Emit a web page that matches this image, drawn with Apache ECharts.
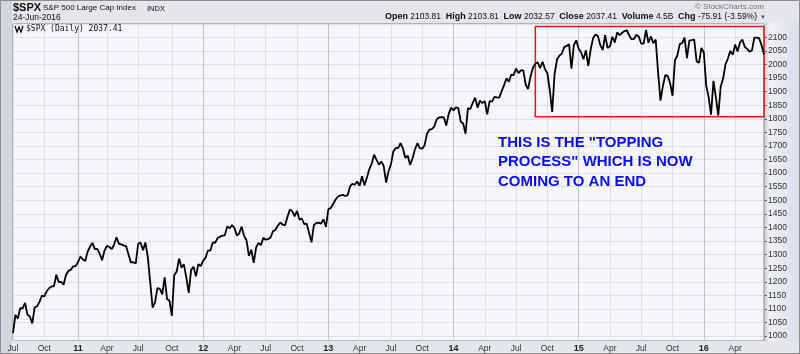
<!DOCTYPE html>
<html>
<head>
<meta charset="utf-8">
<script src="https://cdn.jsdelivr.net/npm/echarts@6/dist/echarts.min.js"></script>
<style>
  html, body { margin: 0; padding: 0; background: #fff; }
  #chart { width: 800px; height: 354px; }
</style>
</head>
<body>
<div id="chart"></div>
<script>
// weekly values of $SPX (one per week, Fridays from 2 Jul 2010)
const spx2010 = [1011, 1078, 1065, 1103, 1102, 1122, 1079, 1072, 1047,
  1105, 1110, 1126, 1149, 1146, 1165, 1176, 1183, 1183, 1226, 1199, 1200, 1189,
  1225, 1240, 1244, 1257, 1258];
const spx2011 = [1272, 1293, 1283, 1276, 1311, 1329, 1343, 1320, 1321, 1304, 1279, 1314,
  1332, 1328, 1320, 1337, 1364, 1340, 1338, 1333, 1331, 1300, 1271, 1272, 1268,
  1340, 1344, 1316, 1345, 1292, 1199, 1105, 1124, 1177, 1174, 1154, 1216, 1136, 1131,
  1075, 1225, 1238, 1285, 1253, 1264, 1216, 1159, 1244, 1255, 1220, 1265, 1258];
const spx2012 = [1278, 1289, 1315, 1316, 1345, 1343, 1361, 1366, 1370, 1371, 1404, 1397, 1409,
  1398, 1370, 1379, 1403, 1369, 1353, 1295, 1318, 1270, 1326, 1343, 1335, 1362,
  1355, 1357, 1363, 1386, 1391, 1406, 1418, 1411, 1407, 1438, 1466, 1460, 1441,
  1461, 1429, 1433, 1412, 1414, 1380, 1345, 1409, 1416, 1418, 1414, 1430, 1402];
const spx2013 = [1467, 1472, 1486, 1503, 1513, 1518, 1520, 1516, 1518, 1551, 1561, 1557, 1569,
  1553, 1589, 1555, 1582, 1614, 1634, 1668, 1650, 1631, 1643, 1627, 1565, 1606,
  1632, 1680, 1692, 1692, 1710, 1691, 1656, 1664, 1630, 1655, 1688, 1710, 1692,
  1690, 1703, 1745, 1760, 1762, 1771, 1798, 1805, 1806, 1805, 1775, 1818, 1841];
const spx2014 = [1831, 1842, 1839, 1790, 1783, 1745, 1839, 1836, 1859, 1878, 1841, 1867, 1858,
  1865, 1816, 1865, 1863, 1881, 1879, 1878, 1901, 1924, 1949, 1936, 1963, 1961,
  1985, 1968, 1978, 1978, 1925, 1910, 1955, 1988, 2003, 2008, 1986, 2010, 1983,
  1968, 1906, 1825, 1965, 2018, 2032, 2040, 2064, 2068, 2075, 1985, 2071, 2089];
const spx2015 = [2058, 2045, 2019, 2052, 1995, 2056, 2097, 2110, 2105, 2071, 2053, 2108, 2061,
  2067, 2102, 2081, 2118, 2108, 2116, 2123, 2126, 2107, 2093, 2094, 2110, 2102,
  2077, 2077, 2127, 2080, 2104, 2078, 2092, 1971, 1867, 1921, 1961, 1958, 1931,
  1885, 2015, 2033, 2075, 2079, 2099, 2023, 2089, 2090, 2092, 2012, 2006, 2061];
const spx2016 = [2044, 1922, 1880, 1815, 1940, 1880, 1812, 1918, 1948, 2000, 2022, 2050, 2036,
  2073, 2048, 2081, 2092, 2065, 2057, 2047, 2052, 2099, 2099, 2096, 2071, 2037];

const closes = [].concat(spx2010, spx2011, spx2012, spx2013, spx2014, spx2015, spx2016);

const monthNames = ['Jan', 'Feb', 'Mar', 'Apr', 'May', 'Jun', 'Jul', 'Aug', 'Sep', 'Oct', 'Nov', 'Dec'];

// the Friday dates, one per value
const weeks = [];
let d = new Date(Date.UTC(2010, 6, 2));
for (let i = 0; i < closes.length; i++) {
  weeks.push(d.toISOString().slice(0, 10));
  d = new Date(d.getTime() + 7 * 864e5);
}

function isQuarter(i) {
  const m = +weeks[i].slice(5, 7) - 1, day = +weeks[i].slice(8, 10);
  return m % 3 === 0 && day <= 7;
}
function isYear(i) {
  return weeks[i].slice(5, 7) === '01' && +weeks[i].slice(8, 10) <= 7;
}

const FONT = "'Liberation Sans', Arial, sans-serif";
const chart = echarts.init(document.getElementById('chart'));

const option = {
  animation: false,
  backgroundColor: '#e4e6ea',
  grid: {
    left: 13, right: 36, top: 24, bottom: 13,
    show: true,
    backgroundColor: '#f5f7fb',
    borderColor: '#808080',
    borderWidth: 1
  },
  xAxis: [
    {
      type: 'category',
      data: weeks,
      boundaryGap: false,
      axisLine: { show: false },
      axisTick: { show: false },
      axisLabel: {
        interval: (i) => isQuarter(i),
        margin: 3,
        fontSize: 8.5,
        fontFamily: FONT,
        color: '#333',
        formatter: (v) => {
          const m = +v.slice(5, 7) - 1;
          if (m === 0) return '{y|' + v.slice(2, 4) + '}';
          return monthNames[m];
        },
        rich: { y: { fontWeight: 'bold', fontSize: 9, fontFamily: FONT, color: '#222' } }
      },
      splitLine: {
        show: true,
        interval: (i) => isQuarter(i) && !isYear(i),
        lineStyle: { color: '#dde1e9', width: 1 }
      }
    },
    {
      type: 'category',
      data: weeks,
      boundaryGap: false,
      axisLine: { show: false },
      axisTick: { show: false },
      axisLabel: { show: false },
      splitLine: {
        show: true,
        interval: (i) => isYear(i),
        lineStyle: { color: '#c3c7cf', width: 1 }
      }
    }
  ],
  yAxis: {
    type: 'value',
    position: 'right',
    min: 982,
    max: 2149,
    splitNumber: 23,
    axisLine: { show: false },
    axisTick: { show: true, length: 3, lineStyle: { color: '#666' } },
    axisLabel: {
      margin: 4,
      fontSize: 8.5,
      fontFamily: FONT,
      color: '#333',
      showMinLabel: false,
      showMaxLabel: false,
      formatter: (v) => String(v)
    },
    splitLine: { lineStyle: { color: '#dde1e9', width: 1 } }
  },
  series: [{
    type: 'line',
    data: closes,
    showSymbol: false,
    z: 3,
    lineStyle: { color: '#000', width: 1.8 },
    markArea: {
      silent: true,
      itemStyle: { color: 'rgba(0,0,0,0)', borderColor: '#e8141b', borderWidth: 1.5 },
      data: [[{ xAxis: '2014-08-29', yAxis: 1808 }, { xAxis: weeks[weeks.length - 1], yAxis: 2140 }]]
    }
  }],
  graphic: [
    // right label panel and left strip
    { type: 'rect', shape: { x: 765, y: 22, width: 35, height: 320 }, z: -1,
      style: { fill: new echarts.graphic.LinearGradient(0, 0, 1, 0, [
        { offset: 0, color: '#cdd1d8' }, { offset: 0.12, color: '#eef0f4' }, { offset: 1, color: '#d9dee7' }]) } },
    { type: 'rect', shape: { x: 0, y: 0, width: 12, height: 354 }, z: -1, style: { fill: '#d3d6dc' } },
    { type: 'rect', shape: { x: 0.5, y: 0.5, width: 799, height: 353 }, z: 100,
      style: { fill: 'none', stroke: '#8d8d8d', lineWidth: 1 } },

    // header
    { type: 'text', x: 13, y: 2, z: 100, style: { text: '$SPX', font: 'bold 11px ' + FONT, fill: '#111' } },
    { type: 'text', x: 43, y: 4, z: 100, style: { text: 'S&P 500 Large Cap Index', font: '8px ' + FONT, fill: '#111' } },
    { type: 'text', x: 147, y: 5, z: 100, style: { text: 'INDX', font: '7.5px ' + FONT, fill: '#111' } },
    { type: 'text', x: 13, y: 13, z: 100, style: { text: '24-Jun-2016', font: '8.5px ' + FONT, fill: '#111' } },
    { type: 'text', x: 764, y: 3, z: 100, style: { text: '© StockCharts.com', font: '8px ' + FONT, fill: '#777', align: 'right' } },
    { type: 'text', x: 757, y: 17, z: 100, style: {
        text: '{b|Open} 2103.81  {b|High} 2103.81  {b|Low} 2032.57  {b|Close} 2037.41  {b|Volume} 4.5B  {b|Chg} -75.91 (-3.59%)',
        font: '8.5px ' + FONT, fill: '#111', align: 'right', verticalAlign: 'middle',
        rich: { b: { fontWeight: 'bold', fontSize: 9, fontFamily: FONT, fill: '#111' } } } },
    { type: 'text', x: 763, y: 17, z: 100, style: { text: '▼', font: '6px ' + FONT, fill: '#3b4f8a', align: 'center', verticalAlign: 'middle' } },

    // legend inside the plot
    { type: 'polyline', z: 100, shape: { points: [[15, 26], [17, 32], [19, 27], [21, 32], [23, 26]] },
      style: { stroke: '#000', lineWidth: 1.2, fill: 'none' } },
    { type: 'text', x: 26, y: 29, z: 100, style: { text: '$SPX (Daily) 2037.41', font: "8px 'DejaVu Sans Mono', monospace", fill: '#111', verticalAlign: 'middle' } },

    // annotation
    { type: 'text', x: 498, y: 132.75, z: 100, style: {
        text: 'THIS IS THE "TOPPING\nPROCESS" WHICH IS NOW\nCOMING TO AN END',
        font: 'bold 15px ' + FONT, fill: '#0b0bf5', lineHeight: 19.5, verticalAlign: 'top' } }
  ]
};

chart.setOption(option);
</script>
</body>
</html>
